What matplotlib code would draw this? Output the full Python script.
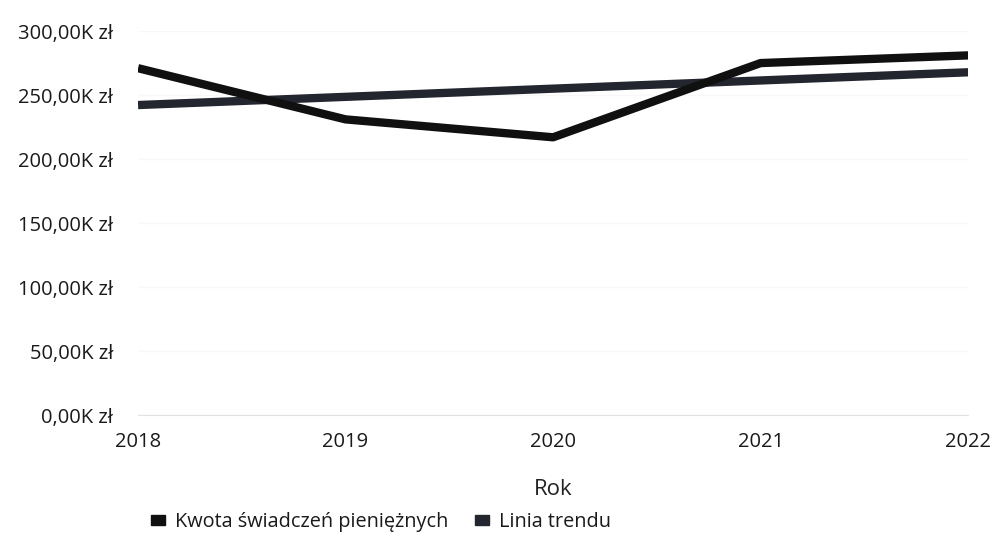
import matplotlib.pyplot as plt
from matplotlib.patches import Patch
from matplotlib.ticker import FuncFormatter

years = [2018, 2019, 2020, 2021, 2022]
amounts = [271, 231, 217, 275, 281]          # K zł
trend = [242.2, 248.6, 255.0, 261.4, 267.8]  # K zł
series_labels = ['Kwota świadczeń pieniężnych', 'Linia trendu']
colors = ['#101010', '#23252f']

plt.rcParams['font.family'] = ['Open Sans', 'DejaVu Sans']

fig = plt.figure(figsize=(9.96, 5.45), dpi=100)
ax = fig.add_axes([0.1386, 0.2385, 0.8334, 0.7045])

ax.plot(years, amounts, color=colors[0], linewidth=6, solid_capstyle='butt', zorder=3)
ax.plot(years, trend, color=colors[1], linewidth=6, solid_capstyle='butt', zorder=2)

ax.set_xlim(2018, 2022)
ax.set_ylim(0, 300)
ax.set_xticks(years)
ax.set_yticks([0, 50, 100, 150, 200, 250, 300])
ax.yaxis.set_major_formatter(FuncFormatter(lambda v, p: f'{v:.2f}'.replace('.', ',') + 'K zł'))

ax.grid(axis='y', color='#f8f8f8', linewidth=1)
ax.set_axisbelow(True)
for s in ['top', 'right', 'left']:
    ax.spines[s].set_visible(False)
ax.spines['bottom'].set_color('#e2e2e2')
ax.tick_params(axis='both', length=0, labelsize=14.5, colors='#1a1a1a')
ax.tick_params(axis='x', pad=12)
ax.tick_params(axis='y', pad=18)

ax.set_xlabel('Rok', fontsize=16, color='#222222', labelpad=20)

handles = [Patch(facecolor=c, edgecolor=c) for c in colors]
fig.legend(handles, series_labels, loc='center', bbox_to_anchor=(381 / 996, 1 - 522 / 545),
           ncol=2, frameon=False, fontsize=14.3, handlelength=0.75, handleheight=0.4,
           handletextpad=0.5, columnspacing=1.3, labelcolor='#1a1a1a')

fig.savefig('out.png', dpi=100)
